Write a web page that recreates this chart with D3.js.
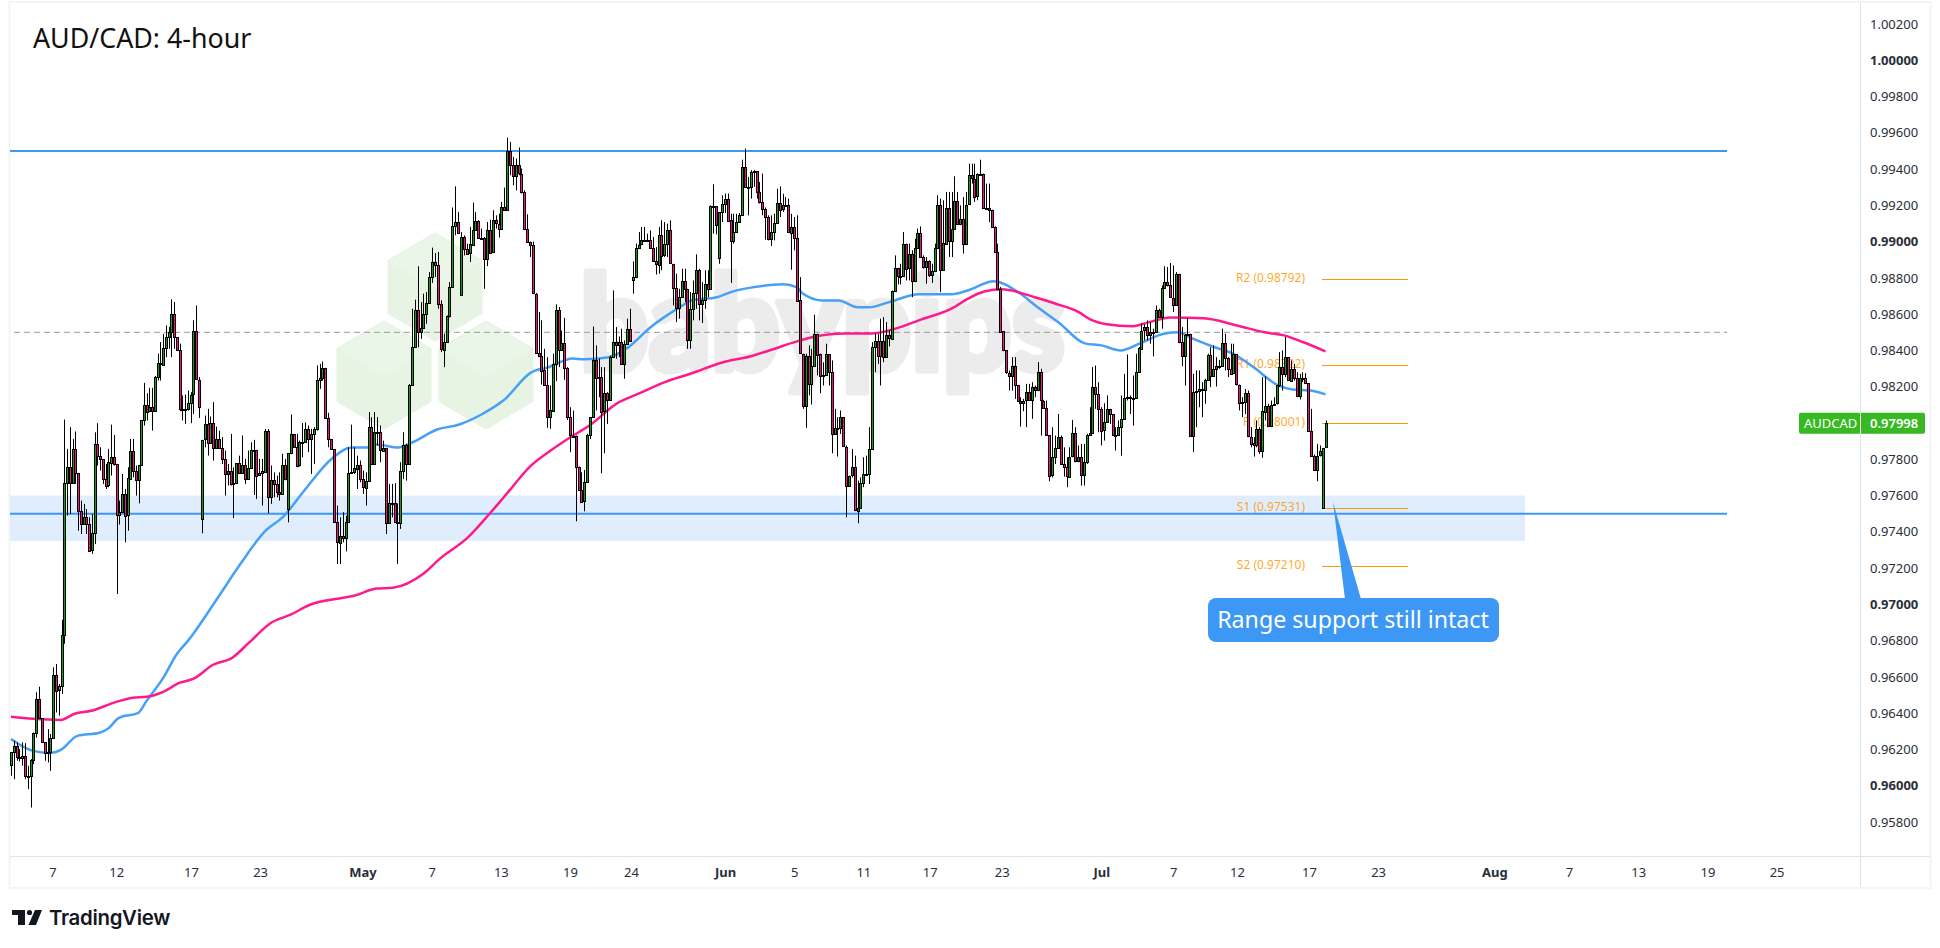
<!DOCTYPE html>
<html>
<head>
<meta charset="utf-8">
<title>AUD/CAD: 4-hour</title>
<script src="https://cdn.jsdelivr.net/npm/d3@7/dist/d3.min.js"></script>
<style>
html,body{margin:0;padding:0;background:#fff;overflow:hidden}
svg{display:block}
text{font-family:"Noto Sans",sans-serif}
</style>
</head>
<body>
<svg id="chart" width="1940" height="948"></svg>
<script>
// 4-hour candles, prices in units of 0.00001
const closes = [
96184,96219,96160,96152,96165,96053,96055,96143,96290,96478,96371,96239,96180,96184,96263,96610,96524,96548,96830,97670,
97756,97670,97857,97725,97517,97443,97484,97443,97296,97392,97885,97820,97802,97692,97655,97784,97815,97774,97493,97508,
97609,97489,97695,97848,97738,97686,97769,98017,98100,98063,98087,98063,98253,98330,98323,98415,98474,98501,98602,98474,
98404,98078,98072,98078,98109,98155,98505,98238,98091,97907,97992,97888,97999,97863,97912,97863,97802,97719,97738,97664,
97668,97780,97723,97769,97692,97750,97852,97852,97710,97723,97734,97958,97594,97686,97664,97618,97609,97771,97692,97835,
97940,97870,97765,97894,97894,97968,97912,97940,97968,98238,98247,98304,98028,97912,97857,97452,97342,97379,97366,97452,
97723,97728,97750,97771,97692,97646,97682,97977,97774,97949,97949,97848,97863,97449,97557,97557,97452,97452,97738,97880,
97774,98210,98418,98624,98501,98523,98602,98661,98805,98888,98869,98654,98404,98446,98590,98750,99086,99108,99050,99026,
98961,98934,98985,99066,99114,99022,99022,98906,99066,98939,99118,99099,99072,99191,99176,99500,99421,99362,99421,99375,
99274,99072,98998,98980,98713,98387,98372,98290,98207,98028,98069,98326,98621,98400,98440,98304,98032,97931,97931,97760,
97631,97566,97673,97934,98032,98348,98249,98256,98065,98166,98128,98363,98446,98428,98446,98326,98437,98518,98452,98805,
98965,98983,99007,99007,99011,98965,98891,98873,99038,98924,98985,99062,98878,98746,98636,98694,98783,98740,98459,98630,
98716,98845,98658,98680,98768,98739,99195,99195,99090,99164,99210,99237,99118,99003,99053,99108,99145,99412,99302,99302,
99384,99388,99274,99219,99182,99136,99016,99053,99103,99213,99176,99200,99200,99050,99081,99022,98676,98382,98096,98372,
98220,98317,98492,98378,98256,98262,98378,98280,97940,97973,97973,98032,97870,97655,97710,97756,97517,97532,97668,97719,
97719,97857,98418,98452,98372,98452,98363,98483,98464,98727,98856,98810,98810,98989,98851,98930,98783,98965,99049,98915,
98860,98891,98814,98836,98965,99204,98845,98992,99188,99007,99072,99224,99099,99127,98989,99204,99366,99348,99250,99372,
99375,99188,99188,99176,99081,98943,98740,98505,98400,98277,98262,98317,98210,98124,98115,98124,98170,98124,98198,98179,
98280,98124,98083,97934,97710,97811,97863,97922,97774,97756,97704,97815,97944,97787,97811,97710,97784,97934,97944,98198,
98161,98078,97958,98004,98078,98050,97934,97934,97977,98023,98139,98146,98139,98139,98280,98413,98510,98529,98483,98501,
98501,98624,98588,98746,98777,98759,98691,98654,98823,98446,98369,98486,98492,97927,98170,98175,98188,98183,98238,98376,
98262,98299,98317,98317,98442,98360,98299,98271,98378,98212,98115,98115,98164,97925,97888,97879,97968,97844,98065,98096,
97986,98102,98106,98207,98308,98271,98363,98234,98299,98249,98148,98249,98249,98220,97958,97820,97741,97820,97844,97863,
97998];
const highs = [
96184,96248,96239,96202,96239,96235,96110,96147,96294,96515,96546,96373,96239,96312,96285,96653,96671,96561,96915,98019,
97857,97977,97912,97953,97725,97572,97554,97526,97480,97499,97949,97999,97866,97802,97774,97857,97991,97934,97774,97572,
97719,97636,97756,97912,97912,97765,97769,98017,98221,98164,98194,98194,98260,98382,98446,98492,98538,98529,98682,98667,
98474,98437,98152,98157,98179,98170,98566,98648,98253,97907,98041,98078,98036,98115,97980,97958,97922,97848,97774,97940,
97756,97780,97820,97931,97802,97848,97894,97907,97852,97802,97802,97967,97967,97766,97728,97710,97728,97830,97802,97835,
98047,97940,97940,97903,98000,98004,97986,97968,97977,98317,98326,98339,98304,98056,97912,97857,97544,97480,97508,97488,
97866,97991,97866,97820,97793,97738,97728,98060,98032,98060,98032,97986,97903,97863,97664,97664,97668,97557,97784,97949,
97885,98215,98630,98680,98864,98667,98713,98722,98832,98967,98937,98943,98676,98492,98593,98777,99188,99305,99164,99053,
99034,98989,99081,99215,99164,99118,99072,99026,99108,99121,99173,99145,99154,99219,99298,99574,99550,99467,99458,99519,
99403,99283,99151,99000,99000,98717,98612,98566,98409,98363,98207,98382,98654,98639,98510,98580,98308,98087,98069,97875,
97760,97728,97741,97940,98032,98532,98428,98354,98308,98308,98170,98372,98731,98529,98477,98520,98455,98575,98630,98891,
98989,99053,99081,99081,99044,99062,99026,98970,99081,99118,99108,99099,99118,98878,98823,98740,98851,98851,98740,98722,
98786,98930,98851,98777,98842,98842,99200,99316,99195,99164,99256,99265,99265,99154,99154,99154,99158,99452,99513,99357,
99394,99394,99388,99329,99375,99188,99145,99145,99154,99292,99305,99264,99246,99237,99154,99136,99145,98805,98382,98382,
98428,98409,98597,98492,98382,98335,98437,98345,98345,98078,98032,98069,98032,97876,97710,97857,97820,97682,97700,97811,
97820,97977,98446,98492,98492,98575,98584,98556,98510,98731,98924,98856,98878,99053,98989,98989,98952,99016,99072,99084,
98924,98915,98897,98878,98989,99256,99237,99228,99274,99274,99274,99360,99274,99200,99246,99274,99430,99430,99430,99376,
99452,99375,99320,99320,99176,99085,98989,98750,98505,98400,98290,98363,98363,98210,98142,98133,98216,98216,98225,98207,
98336,98299,98128,98124,97934,97977,97931,98050,97931,97866,97811,97866,98017,97977,97876,97885,97885,97940,98087,98308,
98317,98225,98087,98109,98152,98078,98050,97977,98014,98152,98271,98378,98152,98262,98382,98419,98547,98544,98566,98556,
98520,98648,98630,98759,98864,98860,98882,98869,98832,98823,98529,98492,98580,98492,98271,98290,98290,98225,98244,98382,
98418,98428,98363,98348,98520,98492,98363,98437,98437,98378,98212,98142,98188,98179,97977,97922,98014,97977,98253,98257,
98106,98124,98142,98207,98391,98400,98474,98363,98345,98326,98280,98271,98280,98275,98220,98078,97826,97885,97876,97863,
98014];
const lows = [
96055,96036,96138,96134,96110,96036,95981,95880,96119,96266,96368,96239,96138,96128,96082,96263,96404,96386,96506,96783,
97489,97498,97664,97664,97406,97388,97443,97388,97292,97278,97333,97765,97738,97664,97636,97646,97710,97765,97057,97440,
97508,97342,97406,97695,97701,97600,97557,97769,97986,98014,98060,97958,98063,98234,98234,98317,98363,98409,98363,98409,
98400,98065,98014,97995,98069,97999,98050,98238,98028,97392,97866,97820,97888,97793,97863,97860,97774,97600,97655,97655,
97476,97668,97720,97720,97664,97692,97750,97603,97581,97710,97544,97730,97502,97554,97590,97590,97572,97609,97684,97452,
97835,97866,97756,97760,97811,97894,97839,97719,97774,97958,98188,98234,98022,97866,97857,97452,97222,97222,97342,97292,
97452,97719,97719,97636,97673,97609,97544,97682,97774,97774,97876,97784,97848,97388,97443,97480,97452,97222,97416,97691,
97682,97774,98210,98418,98418,98464,98523,98547,98661,98772,98805,98630,98391,98308,98446,98582,98750,99035,99050,98707,
98924,98934,98888,98985,99066,99016,99016,98740,98865,98939,99026,99072,99022,99072,99172,99176,99366,99311,99283,99366,
99265,99066,98992,98915,98710,98380,98363,98212,98207,97973,97968,98069,98231,98308,98400,98238,98017,97839,97920,97458,
97631,97560,97513,97673,97912,98032,98069,98142,97723,97833,97995,98124,98360,98354,98363,98323,98244,98437,98452,98713,
98805,98965,98980,98998,98998,98960,98888,98819,98823,98842,98915,98915,98878,98648,98556,98575,98694,98667,98409,98409,
98566,98630,98566,98551,98630,98694,98739,99044,99040,98878,99108,99158,99108,98772,98989,99053,99108,99145,99298,99145,
99237,99302,99237,99210,99145,99011,99007,98976,99007,99099,99136,99164,99191,99050,98845,98952,98676,98382,98078,97973,
98152,98102,98308,98262,98164,98207,98262,98207,97833,97940,97815,97940,97870,97480,97655,97700,97514,97447,97528,97646,
97710,97664,97857,98280,98326,98207,98335,98363,98422,98464,98722,98764,98764,98810,98786,98786,98694,98777,98961,98911,
98851,98768,98805,98772,98832,98965,98722,98842,98992,98915,98915,99072,99095,99090,98934,98989,99204,99320,99219,99228,
99366,99188,99176,99108,99077,98943,98740,98500,98396,98271,98179,98179,98133,98124,97980,98065,97977,98124,98023,98142,
98175,97931,98078,97931,97679,97700,97774,97857,97771,97704,97646,97756,97811,97783,97783,97655,97655,97774,97940,97940,
98078,97949,97876,97903,98004,97995,97931,97848,97931,97820,98023,98124,98050,97986,98134,98280,98409,98455,98455,98437,
98367,98501,98584,98520,98746,98753,98691,98612,98654,98440,98313,98207,98483,97925,97839,97977,98087,98032,98106,98234,
98198,98262,98201,98299,98313,98290,98253,98268,98271,98207,98069,98032,98050,97922,97866,97815,97866,97830,97808,98014,
97977,97977,98096,98102,98198,98179,98253,98231,98234,98234,98142,98130,98225,98216,97955,97815,97738,97679,97815,97526,
97863];
// Opens that do not sit on the previous close (session gaps and the first bar)
const gapOpens = {0:96110,69:97471,99:97526,159:98707,219:98790,249:98911,459:97531};
// Bars skipped over weekends leave the candle row uneven, so bar numbers map to chart positions through these pairs
const barAnchors = [0,19,67,115,175,228,257,296,340,409,460];
const anchorPos = [0,19.3,66.9,116.7,179.3,234,264.2,304.9,350.2,422,475];

// Moving averages sampled along the chart positions
const ma100Pos = [0,8,14,18,24,32,35,39,46,49,55,60,64,74,83,92,98,106,116,123,129,132,140,145,154,162,170,178,188,194,203,207,216,223,231,241,246,255,261,268,279,284,286,293,299,306,310,317,328,340,346,355,364,371,379,388,394,401,408,417,422,426,434,442,449,458,463,469,475];
const ma100 = [96258,96192,96181,96198,96275,96292,96314,96374,96402,96468,96595,96728,96800,97020,97225,97407,97478,97628,97804,97865,97865,97882,97865,97893,97964,97992,98047,98125,98279,98307,98356,98351,98362,98417,98527,98632,98676,98693,98726,98748,98765,98748,98715,98676,98676,98638,98638,98665,98710,98710,98732,98781,98721,98638,98549,98439,98428,98400,98439,98494,98500,98472,98423,98379,98307,98207,98185,98180,98158];
const ma200Pos = [0,8,18,23,29,37,44,49,55,61,66,73,80,86,94,101,108,120,124,132,138,149,155,165,173,178,188,195,202,209,219,227,236,246,257,267,274,284,291,301,311,320,328,340,346,352,358,370,377,386,390,396,405,411,419,431,443,453,460,467,475];
const ma200 = [96380,96369,96363,96397,96413,96457,96485,96490,96518,96568,96590,96667,96706,96789,96899,96943,96998,97037,97048,97087,97092,97169,97252,97368,97501,97589,97766,97848,97920,97986,98108,98163,98224,98274,98334,98367,98400,98450,98478,98494,98494,98522,98566,98632,98687,98726,98737,98693,98660,98610,98571,98544,98533,98555,98582,98577,98538,98500,98483,98445,98395];

// Axes
const priceTicks = [1.002,1.000,0.998,0.996,0.994,0.992,0.990,0.988,0.986,0.984,0.982,0.980,0.978,0.976,0.974,0.972,0.970,0.968,0.966,0.964,0.962,0.960,0.958];
const boldPrices = [1.000,0.990,0.980,0.970,0.960];
const timeLabels = ["7","12","17","23","May","7","13","19","24","Jun","5","11","17","23","Jul","7","12","17","23","Aug","7","13","19","25"];
const timePos = [15,38,65,90,127,152,177,202,224,258,283,308,332,358,394,420,443,469,494,536,563,588,613,638];
const boldTimes = ["May","Jun","Jul","Aug"];

// Levels and labels
const resistance = 0.995, support = 0.975, midRange = 0.985;
const supportZone = [0.976, 0.9735];
const pivotNames = ["R2","R1","P","S1","S2"];
const pivotValues = [0.98792,0.98322,0.98001,0.97531,0.97210];
const lastPrice = 0.97998;
const title = "AUD/CAD: 4-hour", symbol = "AUDCAD", note = "Range support still intact";

const COL = {green:"#189c18",pink:"#f5127f",blue:"#3d97f5",maBlue:"#46a0f7",maPink:"#ff1a8c",zone:"#dfedfd",
  orange:"#ff9800",badge:"#37b922",frame:"#f3f4f6",axis:"#e0e3eb",tick:"#2a2e39",water:"#ececec",hex:"#e7f3e3",hexTop:"#eaf6e8"};

const svg = d3.select("#chart");
const x = d3.scaleLinear().domain([0,475]).range([11,1325.5]);
const y = d3.scaleLinear().domain([1.002,0.958]).range([24,822]);
const barPos = d3.scaleLinear().domain(barAnchors).range(anchorPos);
const barX = i => Math.round(x(barPos(i)));
const p5 = v => v/1e5;

// Panel frame
const frame = svg.append("g");
frame.append("rect").attr("x",9.5).attr("y",2).attr("width",1921).attr("height",886).attr("fill","#fff").attr("stroke",COL.frame).attr("stroke-width",2);
frame.append("line").attr("x1",10).attr("x2",1930).attr("y1",856.5).attr("y2",856.5).attr("stroke",COL.axis);

// Watermark: three hexagons and the wordmark
const water = svg.append("g");
[[435,234],[384,322],[486,322]].forEach(([cx,top])=>{
  const w=46, h=106, s=27;
  water.append("path").attr("d",`M${cx},${top}L${cx+w},${top+s}V${top+h-s}L${cx},${top+h}L${cx-w},${top+h-s}V${top+s}Z`)
    .attr("fill",COL.hex).attr("stroke",COL.hex).attr("stroke-width",3).attr("stroke-linejoin","round");
  water.append("path").attr("d",`M${cx},${top}L${cx+w},${top+s}L${cx},${top+55}L${cx-w},${top+s}Z`).attr("fill",COL.hexTop);
});
water.append("text").attr("x",580).attr("y",370).attr("textLength",485).attr("lengthAdjust","spacingAndGlyphs")
  .style("font-family","Lato,'Noto Sans',sans-serif").style("font-weight",900).attr("font-size",132)
  .attr("fill",COL.water).attr("stroke",COL.water).attr("stroke-width",7).attr("stroke-linejoin","round").text("babypips");

// Support zone and range levels
svg.append("rect").attr("x",10).attr("width",1515).attr("y",y(supportZone[0])).attr("height",y(supportZone[1])-y(supportZone[0])).attr("fill",COL.zone);
svg.append("line").attr("x1",14).attr("x2",1727).attr("y1",y(midRange)).attr("y2",y(midRange)).attr("stroke","#9a9a9a").attr("stroke-dasharray","6 4");
[resistance,support].forEach(v=>svg.append("line").attr("x1",10).attr("x2",1727).attr("y1",y(v)).attr("y2",y(v)).attr("stroke",COL.blue).attr("stroke-width",2));

// Pivot levels
const pivots = svg.append("g").selectAll("g").data(pivotValues).join("g");
pivots.append("line").attr("x1",1322).attr("x2",1408).attr("y1",d=>Math.round(y(d))+.5).attr("y2",d=>Math.round(y(d))+.5).attr("stroke",COL.orange);
pivots.append("text").attr("x",1305).attr("y",d=>y(d)+3).attr("text-anchor","end").attr("font-size",12)
  .attr("fill",COL.orange).attr("fill-opacity",.85).text((d,i)=>`${pivotNames[i]} (${d.toFixed(5)})`);

// Moving averages
const maLine = d3.line().x(d=>x(d[0])).y(d=>y(p5(d[1]))).curve(d3.curveMonotoneX);
[[ma100Pos,ma100,COL.maBlue],[ma200Pos,ma200,COL.maPink]].forEach(([pos,vals,c])=>{
  svg.append("path").attr("d",maLine(pos.map((q,i)=>[q,vals[i]]))).attr("fill","none").attr("stroke",c).attr("stroke-width",2.5);
});

// Candles
const candles = closes.map((c,i)=>{
  const o = gapOpens[i]!==undefined ? gapOpens[i] : closes[i-1];
  return {i,o,c,h:Math.max(highs[i],o,c),l:Math.min(lows[i],o,c)};
});
const cg = svg.append("g").selectAll("g").data(candles).join("g");
cg.append("line")
  .attr("x1",d=>barX(d.i)+.5).attr("x2",d=>barX(d.i)+.5)
  .attr("y1",d=>y(p5(d.h))).attr("y2",d=>y(p5(d.l))).attr("stroke","#000");
cg.append("rect")
  .attr("x",d=>barX(d.i)-.5).attr("width",2)
  .attr("y",d=>Math.round(y(p5(Math.max(d.o,d.c))))+.5)
  .attr("height",d=>Math.max(1,Math.round(Math.abs(y(p5(d.o))-y(p5(d.c))))))
  .attr("fill",d=>d.c>=d.o?COL.green:COL.pink).attr("stroke","#000");

// Callout
svg.append("path").attr("d","M1333,502L1361,599H1345Z").attr("fill",COL.blue);
svg.append("rect").attr("x",1208).attr("y",598).attr("width",291).attr("height",44).attr("rx",8).attr("fill",COL.blue);
svg.append("text").attr("x",1353).attr("y",628).attr("text-anchor","middle").attr("font-size",23.2).attr("fill","#fff").text(note);

// Title
svg.append("text").attr("x",33).attr("y",48).attr("font-size",26.8).attr("fill","#111").text(title);

// Price axis
const yAxis = d3.axisRight(y).tickValues(priceTicks).tickSize(0).tickPadding(10).tickFormat(d3.format(".5f"));
const yg = svg.append("g").attr("transform","translate(1860,0)").call(yAxis);
yg.select(".domain").remove();
yg.selectAll("text").style("font-family","'Noto Sans',sans-serif").attr("font-size",13).attr("fill",COL.tick)
  .attr("font-weight",d=>boldPrices.some(b=>Math.abs(b-d)<1e-9)?700:400);
svg.append("line").attr("x1",1860.5).attr("x2",1860.5).attr("y1",3).attr("y2",887).attr("stroke",COL.axis);

// Time axis
const xAxis = d3.axisBottom(x).tickValues(timePos).tickSize(0).tickPadding(11).tickFormat((d,i)=>timeLabels[i]);
const xg = svg.append("g").attr("transform","translate(0,857)").call(xAxis);
xg.select(".domain").remove();
xg.selectAll("text").style("font-family","'Noto Sans',sans-serif").attr("font-size",13).attr("fill",COL.tick)
  .attr("font-weight",(d,i)=>boldTimes.includes(timeLabels[i])?700:400);

// Last price badge
const by = y(lastPrice);
svg.append("rect").attr("x",1799).attr("y",by-10.5).attr("width",126).attr("height",21).attr("rx",2).attr("fill",COL.badge);
svg.append("line").attr("x1",1860.5).attr("x2",1860.5).attr("y1",by-10.5).attr("y2",by+10.5).attr("stroke","#fff");
svg.append("text").attr("x",1804).attr("y",by+4.5).attr("font-size",13).attr("fill","#fff").text(symbol);
svg.append("text").attr("x",1870).attr("y",by+4.5).attr("font-size",13).attr("font-weight",600).attr("fill","#fff").text(lastPrice.toFixed(5));

// Platform mark
const logo = svg.append("g").attr("fill","#131722");
logo.append("path").attr("d","M12,910H25V925H18V915H12Z");
logo.append("circle").attr("cx",29.5).attr("cy",912.5).attr("r",2.6);
logo.append("path").attr("d","M35,910H42L36,925H28.5Z");
logo.append("text").attr("x",49).attr("y",925).style("font-family","Inter,'Noto Sans',sans-serif").attr("font-size",20.4).attr("font-weight",600).attr("letter-spacing","-0.3").text("TradingView");
</script>
</body>
</html>
